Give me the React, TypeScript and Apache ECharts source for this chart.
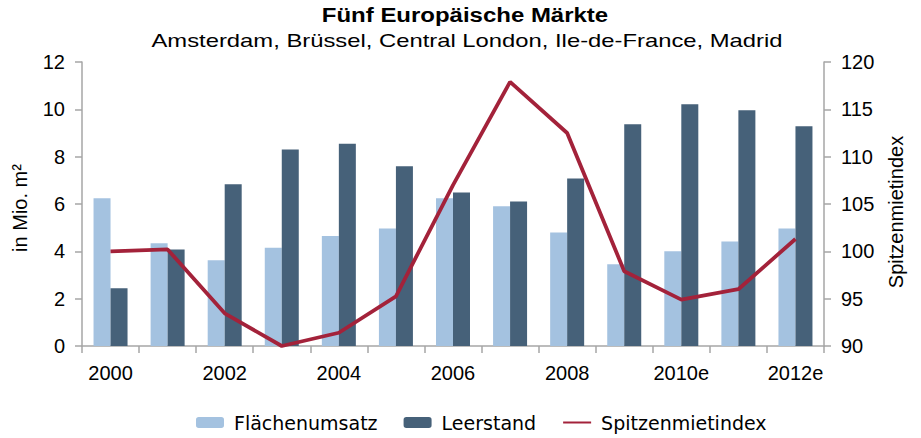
import React, { useEffect, useRef } from "react";
import * as echarts from "echarts";

const categories = ["2000", "2001", "2002", "2003", "2004", "2005", "2006", "2007", "2008", "2009", "2010e", "2011e", "2012e"];
const flaechenumsatz = [6.24, 4.34, 3.62, 4.15, 4.65, 4.97, 6.24, 5.9, 4.8, 3.45, 4.0, 4.42, 4.97];
const leerstand = [2.44, 4.08, 6.83, 8.3, 8.55, 7.59, 6.49, 6.11, 7.08, 9.37, 10.21, 9.96, 9.29];
const spitzenmietindex = [100.0, 100.2, 93.45, 90.0, 91.4, 95.25, 107.0, 117.9, 112.5, 97.9, 94.9, 96.0, 101.3];
const leftTicks = { min: 0, max: 12, interval: 2 };
const rightTicks = { min: 90, max: 120, interval: 5 };

const titleText = "Fünf Europäische Märkte";
const subtitleText = "Amsterdam, Brüssel, Central London, Ile-de-France, Madrid";

const LIGHT = "#A4C2E0";
const DARK = "#466179";
const RED = "#A3223A";
const AXIS = "#A6A6A6";
const ARIAL = "'Liberation Sans', Arial, sans-serif";
const WIDE = "'DejaVu Sans', sans-serif";

export default function App() {
  const ref = useRef<HTMLDivElement>(null);
  useEffect(() => {
    if (!ref.current) return;
    document.body.style.margin = "0";
    const chart = echarts.init(ref.current, null, { renderer: "svg" });
    chart.setOption({
      animation: false,
      backgroundColor: "#ffffff",
      graphic: [
        {
          type: "text",
          x: 465,
          y: 15,
          scaleX: 1.23,
          style: {
            text: titleText,
            fontFamily: ARIAL,
            fontWeight: "bold",
            fontSize: 19.5,
            fill: "#000",
            textAlign: "center",
            textVerticalAlign: "middle",
          },
        },
        {
          type: "text",
          x: 467,
          y: 41,
          scaleX: 1.28,
          style: {
            text: subtitleText,
            fontFamily: ARIAL,
            fontSize: 18.6,
            fill: "#000",
            textAlign: "center",
            textVerticalAlign: "middle",
          },
        },
      ],
      legend: {
        data: [
          { name: "Flächenumsatz" },
          { name: "Leerstand" },
          { name: "Spitzenmietindex", itemStyle: { opacity: 0 } },
        ],
        left: 191,
        top: 408,
        itemWidth: 28,
        itemHeight: 11,
        itemGap: 26,
        textStyle: {
          fontFamily: WIDE,
          fontSize: 19,
          color: "#000",
          padding: [0, 0, 0, 5],
        },
      },
      grid: { left: 82, right: 97, top: 62, bottom: 92, containLabel: false },
      xAxis: {
        type: "category",
        data: categories,
        boundaryGap: true,
        axisLine: { show: true, lineStyle: { color: AXIS, width: 1.5 } },
        axisTick: { show: true, interval: 0, length: 7, lineStyle: { color: AXIS, width: 1.5 } },
        axisLabel: { interval: 1, margin: 17, fontFamily: ARIAL, fontSize: 20, color: "#000" },
        splitLine: { show: false },
      },
      yAxis: [
        {
          type: "value",
          min: leftTicks.min,
          max: leftTicks.max,
          interval: leftTicks.interval,
          position: "left",
          name: "in Mio. m²",
          nameLocation: "middle",
          nameRotate: 90,
          nameGap: 52,
          nameTextStyle: { fontFamily: ARIAL, fontSize: 20, color: "#000", padding: [0, 8, 0, 0] },
          axisLine: { show: true, lineStyle: { color: AXIS, width: 1.5 } },
          axisTick: { show: true, length: 7, lineStyle: { color: AXIS, width: 1.5 } },
          axisLabel: { margin: 17, fontFamily: ARIAL, fontSize: 20, color: "#000" },
          splitLine: { show: false },
        },
        {
          type: "value",
          min: rightTicks.min,
          max: rightTicks.max,
          interval: rightTicks.interval,
          position: "right",
          name: "Spitzenmietindex",
          nameLocation: "middle",
          nameRotate: 90,
          nameGap: 62,
          nameTextStyle: { fontFamily: ARIAL, fontSize: 20, color: "#000", padding: [0, 16, 0, 0] },
          axisLine: { show: true, lineStyle: { color: AXIS, width: 1.5 } },
          axisTick: { show: true, length: 7, lineStyle: { color: AXIS, width: 1.5 } },
          axisLabel: { margin: 17, fontFamily: ARIAL, fontSize: 20, color: "#000" },
          splitLine: { show: false },
        },
      ],
      series: [
        {
          name: "Flächenumsatz",
          type: "bar",
          data: flaechenumsatz,
          barWidth: 17,
          barGap: "0%",
          itemStyle: { color: LIGHT },
        },
        {
          name: "Leerstand",
          type: "bar",
          data: leerstand,
          barWidth: 17,
          barGap: "0%",
          itemStyle: { color: DARK },
        },
        {
          name: "Spitzenmietindex",
          type: "line",
          yAxisIndex: 1,
          data: spitzenmietindex,
          symbol: "none",
          z: 5,
          lineStyle: { color: RED, width: 3.8 },
          itemStyle: { color: RED },
        },
      ],
    });
    return () => chart.dispose();
  }, []);
  return <div ref={ref} style={{ position: "fixed", left: 0, top: 0, width: 921, height: 438 }} />;
}
